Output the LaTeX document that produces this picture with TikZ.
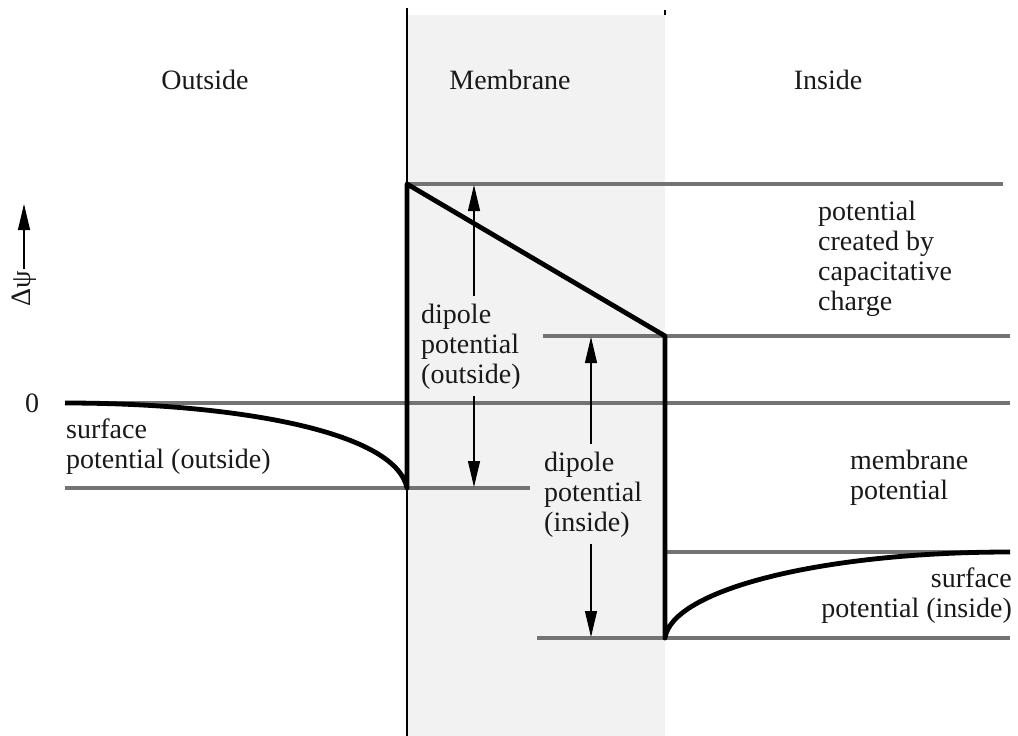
\documentclass[tikz,border=0pt]{standalone}
\usepackage{fontspec}
\setmainfont{Liberation Serif}
\usetikzlibrary{arrows.meta}
\begin{document}
\begin{tikzpicture}[x=1pt,y=-1pt,
  lbl/.style={inner sep=0pt,text=black!90,font=\fontsize{28}{30}\selectfont},
  level/.style={draw=black!55,line width=3.2pt},
  curve/.style={draw=black,line width=4.8pt,line join=round},
  dimarrow/.style={draw=black,line width=1.1pt,-{Triangle[length=26pt,width=12pt]}}]
\useasboundingbox (0,0) rectangle (1018,736);
% membrane shading
\fill[black!5] (408,15) rectangle (665,736);
\draw[line width=1.3pt] (407,8) -- (407,736);
\draw[line width=1.5pt] (665,10) -- (665,15);
% levels
\draw[level] (407,184) -- (1003,184);
\draw[level] (543,336) -- (1010,336);
\draw[level] (65,403) -- (1010,403);
\draw[level] (65,488) -- (530,488);
\draw[level] (665,552) -- (1010,552);
\draw[level] (537,638) -- (1010,638);
% potential profile
\draw[curve] (65,403) .. controls (230,403) and (395,430) .. (407,488)
  -- (407,184) -- (665,336) -- (665,638)
  .. controls (672,590) and (820,552) .. (1010,552);
% region labels
\node[lbl] (outside) at (205,80) {Outside};
\node[lbl] (membrane) at (510,80) {Membrane};
\node[lbl] (inside) at (828,80) {Inside};
% axis
\node[lbl,rotate=90] (dpsi) at (24,289) {Δψ};
\coordinate (dpsitop) at (24,204);
\draw[dimarrow] (dpsi.east) ++(0,-2) -- (dpsitop);
\node[lbl] (zero) at (32,403) {0};
% dipole outside
\node[lbl,align=left,anchor=west] (dipout) at (421,347) {dipole\\potential\\(outside)};
\coordinate (dotop) at (474,185);
\coordinate (dobot) at (474,487);
\draw[dimarrow] (dipout.north -| dotop) ++(0,-8) -- (dotop);
\draw[dimarrow] (dipout.south -| dobot) ++(0,6) -- (dobot);
% dipole inside
\node[lbl,align=left,anchor=west] (dipin) at (544,495) {dipole\\potential\\(inside)};
\coordinate (ditop) at (591,337);
\coordinate (dibot) at (591,637);
\draw[dimarrow] (dipin.north -| ditop) ++(0,-8) -- (ditop);
\draw[dimarrow] (dipin.south -| dibot) ++(0,6) -- (dibot);
% right labels
\node[lbl,align=left,anchor=west] (cap) at (818,259) {potential\\created by\\capacitative\\charge};
\node[lbl,align=left,anchor=west] (mempot) at (850,478) {membrane\\potential};
\node[lbl,align=right,anchor=east] (surfin) at (1012,596) {surface\\potential (inside)};
\node[lbl,align=left,anchor=west] (surfout) at (66,447) {surface\\potential (outside)};
\end{tikzpicture}
\end{document}
